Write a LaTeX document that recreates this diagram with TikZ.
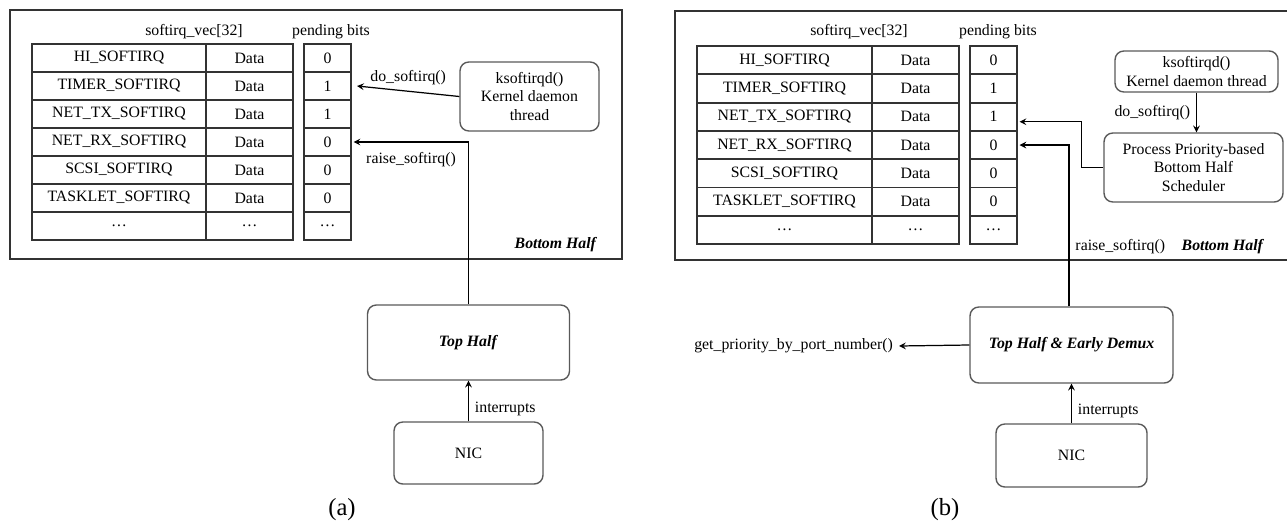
\documentclass[tikz,border=0pt]{standalone}
\usepackage{fontspec}
\setmainfont{Liberation Serif}
\usepackage{tikz}
\usetikzlibrary{arrows}

\tikzset{
  cell/.style={draw=black!80, line width=0.9pt, inner sep=0pt, minimum height=0.56cm},
  rbox/.style={draw=black!65, line width=0.8pt, rounded corners=5pt, align=center, inner sep=0pt},
  frame/.style={draw=black!80, line width=1.1pt},
  link/.style={->, >=stealth, line width=0.7pt},
}

\begin{document}
\begin{tikzpicture}[x=0.02cm, y=-0.02cm, font=\fontsize{9}{10.5}\selectfont]
\useasboundingbox (0,0) rectangle (1287,527);

% (a) softirq without priorities
\draw[frame] (10,10) rectangle (622,259);

\node (ahead) at (194,32) {softirq\_vec[32]};
\node (apend) at (331,32) {pending bits};

\foreach \nm/\dat/\bit [count=\i from 0] in {HI\_SOFTIRQ/Data/0, TIMER\_SOFTIRQ/Data/1, NET\_TX\_SOFTIRQ/Data/1, NET\_RX\_SOFTIRQ/Data/0, SCSI\_SOFTIRQ/Data/0, TASKLET\_SOFTIRQ/Data/0, \dots/\dots/\dots}
{
  \node[cell, minimum width=3.48cm] (aname\i) at (119,58+28*\i) {\nm};
  \node[cell, minimum width=1.74cm] (adata\i) at (249.5,58+28*\i) {\dat};
  \node[cell, minimum width=0.94cm] (abit\i) at (327.5,58+28*\i) {\bit};
}

\node[rbox, minimum width=2.78cm, minimum height=1.38cm] (akd) at (529.5,96.5)
{ksoftirqd()\\Kernel daemon\\thread};

\node (abot) at (556,245) {\textbf{\textit{Bottom Half}}};

\node[rbox, minimum width=4.04cm, minimum height=1.5cm] (atop) at (468.5,342.5)
{\textbf{\textit{Top Half}}};

\node[rbox, minimum width=2.98cm, minimum height=1.24cm] (anic) at (468.5,453) {NIC};

\node (acap) at (342,510) {\fontsize{14}{16}\selectfont (a)};

\draw[link] (akd.west) -- ([xshift=3pt]abit1.east) node[midway, above] {do\_softirq()};

\draw[link] (atop.north) |- ([xshift=1pt]abit3.east) node[pos=0.75, below=2pt] {raise\_softirq()};

\draw[link] (anic.north) -- (atop.south) node[pos=0.3, right] {interrupts};

% (b) softirq with priority-based scheduler
\draw[frame] (1288,11) -- (675,11) -- (675,260) -- (1288,260);

\node (bhead) at (859,32) {softirq\_vec[32]};
\node (bpend) at (998,32) {pending bits};

\foreach \nm/\dat/\bit [count=\i from 0] in {HI\_SOFTIRQ/Data/0, TIMER\_SOFTIRQ/Data/1, NET\_TX\_SOFTIRQ/Data/1, NET\_RX\_SOFTIRQ/Data/0, SCSI\_SOFTIRQ/Data/0, TASKLET\_SOFTIRQ/Data/0, \dots/\dots/\dots}
{
  \node[cell, minimum width=3.5cm] (bname\i) at (784.5,60.15+28.3*\i) {\nm};
  \node[cell, minimum width=1.74cm] (bdata\i) at (915.5,60.15+28.3*\i) {\dat};
  \node[cell, minimum width=0.94cm] (bbit\i) at (993.5,60.15+28.3*\i) {\bit};
}

\node[rbox, minimum width=3.26cm, minimum height=0.82cm] (bkd) at (1196.5,71.5)
{ksoftirqd()\\Kernel daemon thread};

\node[rbox, minimum width=3.58cm, minimum height=1.38cm] (bsched) at (1193.5,167.5)
{Process Priority-based\\Bottom Half\\Scheduler};

\node (bbot) at (1223,247) {\textbf{\textit{Bottom Half}}};

\node[rbox, minimum width=4.06cm, minimum height=1.52cm] (btop) at (1071.5,345)
{\textbf{\textit{Top Half \& Early Demux}}};

\node[rbox, minimum width=3.02cm, minimum height=1.26cm] (bnic) at (1071.5,455.5) {NIC};

\node[anchor=east] (bprio) at (899,346) {get\_priority\_by\_port\_number()};

\node (bcap) at (945,510) {\fontsize{14}{16}\selectfont (b)};

\draw[link] (bkd.south) -- (bkd.south |- bsched.north) node[midway, left] {do\_softirq()};

\draw[link] (bsched.west) -- ++(-22,0) |- ([xshift=1pt, yshift=-0.1cm]bbit2.east);

\draw[link] ([xshift=-0.05cm]btop.north) |- ([xshift=1pt]bbit3.east) node[pos=0.185, right] {raise\_softirq()};

\draw[link] (btop.west) -- (bprio.east);

\draw[link] (bnic.north) -- (btop.south) node[pos=0.3, right] {interrupts};

\end{tikzpicture}
\end{document}
